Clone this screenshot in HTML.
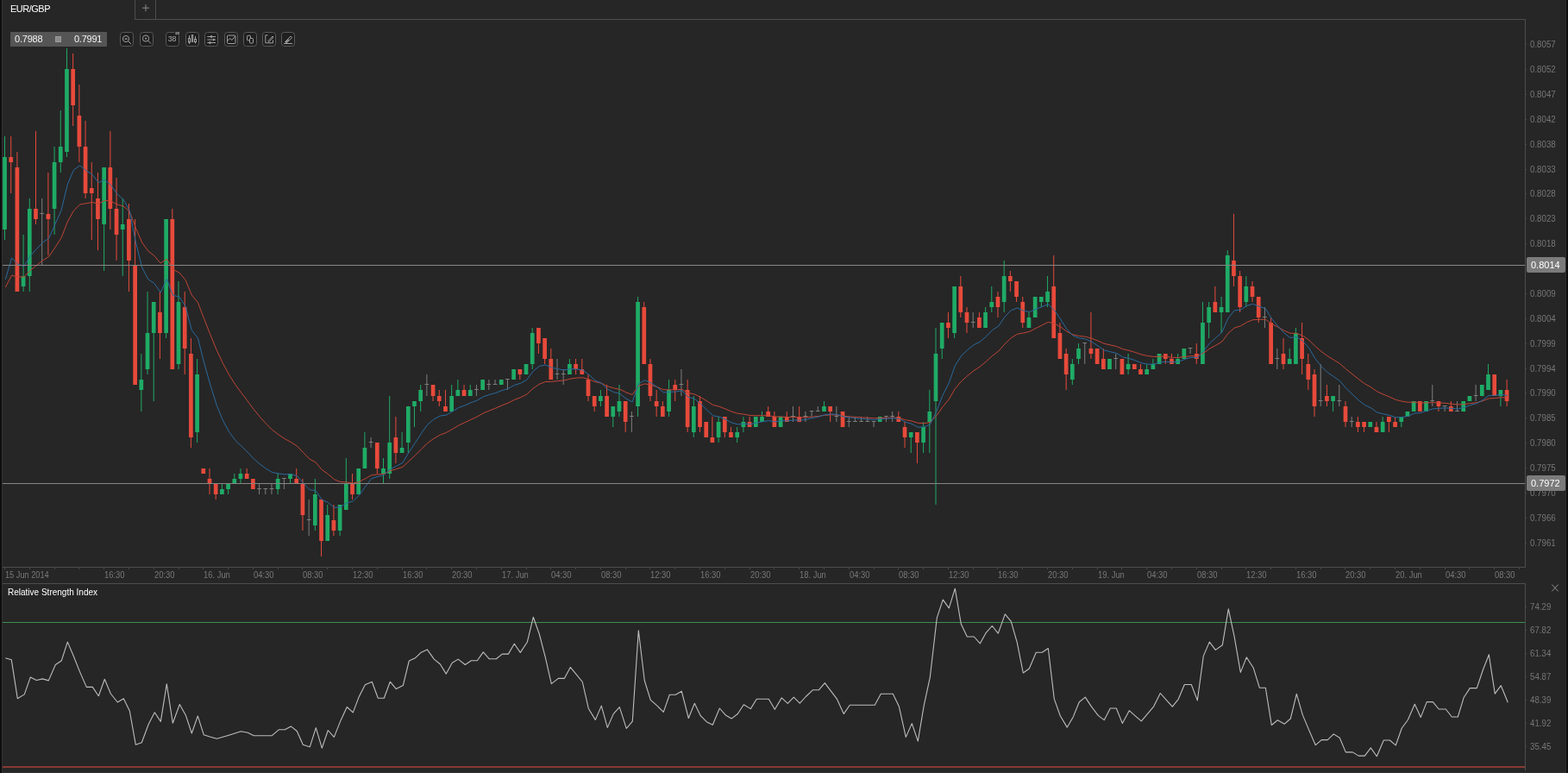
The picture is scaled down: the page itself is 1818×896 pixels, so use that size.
<!DOCTYPE html>
<html><head><meta charset="utf-8"><style>
*{margin:0;padding:0;box-sizing:border-box}
html,body{width:1818px;height:896px;overflow:hidden;background:#262626}
body{position:relative;font-family:"Liberation Sans",Arial,sans-serif}
.abs{position:absolute}
.yl{position:absolute;left:1773.6px;height:14px;line-height:14px;font-size:10px;color:#767676;white-space:nowrap;transform:scaleX(0.97);transform-origin:0 0}
.ytk{position:absolute;left:1769px;width:1px;height:1px;background:#4a4a4a}
.tl{position:absolute;top:660px;height:14px;line-height:14px;font-size:10px;color:#787878;white-space:nowrap;transform:scaleX(0.94);transform-origin:0 0}
.ib{position:absolute;top:37px;width:16px;height:17px;border:1px solid #4d4d4d;border-radius:3px}
.ib svg{position:absolute;left:0;top:0}
.pbox{position:absolute;left:1770px;width:45px;height:18px;background:#7b7b7b;border-radius:2px;color:#fff;font-size:11px;line-height:18px;padding-left:5px}
</style></head><body>
<div class="abs" style="left:0;top:0;width:2px;height:896px;background:#0e0e0e"></div>
<div class="abs" style="left:2px;top:0;width:1px;height:896px;background:#333"></div>
<div class="abs" style="left:1815px;top:0;width:1px;height:896px;background:#303030"></div>
<div class="abs" style="left:1816px;top:0;width:2px;height:896px;background:#0e0e0e"></div>

<div class="abs" style="left:12px;top:4px;font-size:11px;line-height:12px;color:#fff;letter-spacing:-0.5px">EUR/GBP</div>
<div class="abs" style="left:156px;top:0;width:1px;height:23px;background:#4d4d4d"></div>
<div class="abs" style="left:180px;top:0;width:1px;height:23px;background:#4d4d4d"></div>
<div class="abs" style="left:156px;top:22px;width:1613px;height:1px;background:#4d4d4d"></div>
<svg class="abs" style="left:160px;top:0" width="20" height="20"><path d="M9 5.2 V13.2 M5 9.2 H13" stroke="#8a8a8a" stroke-width="1"/></svg>

<svg class="abs" style="left:0;top:0" width="1818" height="896">
<g shape-rendering="crispEdges">
<rect x="1768" y="22" width="1" height="636" fill="#4d4d4d"/>
<rect x="3" y="657" width="1766" height="1" fill="#4d4d4d"/>
<rect x="3" y="676" width="1766" height="1" fill="#4d4d4d"/>
<rect x="1768" y="676" width="1" height="217" fill="#4d4d4d"/>
<rect x="2" y="895" width="1814" height="1" fill="#313131"/>
<rect x="5" y="657" width="1" height="3" fill="#4a4a4a"/><rect x="34" y="657" width="1" height="3" fill="#4a4a4a"/><rect x="63" y="657" width="1" height="3" fill="#4a4a4a"/><rect x="91" y="657" width="1" height="3" fill="#4a4a4a"/><rect x="120" y="657" width="1" height="3" fill="#4a4a4a"/><rect x="149" y="657" width="1" height="3" fill="#4a4a4a"/><rect x="178" y="657" width="1" height="3" fill="#4a4a4a"/><rect x="207" y="657" width="1" height="3" fill="#4a4a4a"/><rect x="235" y="657" width="1" height="3" fill="#4a4a4a"/><rect x="264" y="657" width="1" height="3" fill="#4a4a4a"/><rect x="293" y="657" width="1" height="3" fill="#4a4a4a"/><rect x="322" y="657" width="1" height="3" fill="#4a4a4a"/><rect x="350" y="657" width="1" height="3" fill="#4a4a4a"/><rect x="379" y="657" width="1" height="3" fill="#4a4a4a"/><rect x="408" y="657" width="1" height="3" fill="#4a4a4a"/><rect x="437" y="657" width="1" height="3" fill="#4a4a4a"/><rect x="466" y="657" width="1" height="3" fill="#4a4a4a"/><rect x="494" y="657" width="1" height="3" fill="#4a4a4a"/><rect x="523" y="657" width="1" height="3" fill="#4a4a4a"/><rect x="552" y="657" width="1" height="3" fill="#4a4a4a"/><rect x="581" y="657" width="1" height="3" fill="#4a4a4a"/><rect x="610" y="657" width="1" height="3" fill="#4a4a4a"/><rect x="638" y="657" width="1" height="3" fill="#4a4a4a"/><rect x="667" y="657" width="1" height="3" fill="#4a4a4a"/><rect x="696" y="657" width="1" height="3" fill="#4a4a4a"/><rect x="725" y="657" width="1" height="3" fill="#4a4a4a"/><rect x="753" y="657" width="1" height="3" fill="#4a4a4a"/><rect x="782" y="657" width="1" height="3" fill="#4a4a4a"/><rect x="811" y="657" width="1" height="3" fill="#4a4a4a"/><rect x="840" y="657" width="1" height="3" fill="#4a4a4a"/><rect x="869" y="657" width="1" height="3" fill="#4a4a4a"/><rect x="897" y="657" width="1" height="3" fill="#4a4a4a"/><rect x="926" y="657" width="1" height="3" fill="#4a4a4a"/><rect x="955" y="657" width="1" height="3" fill="#4a4a4a"/><rect x="984" y="657" width="1" height="3" fill="#4a4a4a"/><rect x="1013" y="657" width="1" height="3" fill="#4a4a4a"/><rect x="1041" y="657" width="1" height="3" fill="#4a4a4a"/><rect x="1070" y="657" width="1" height="3" fill="#4a4a4a"/><rect x="1099" y="657" width="1" height="3" fill="#4a4a4a"/><rect x="1128" y="657" width="1" height="3" fill="#4a4a4a"/><rect x="1156" y="657" width="1" height="3" fill="#4a4a4a"/><rect x="1185" y="657" width="1" height="3" fill="#4a4a4a"/><rect x="1214" y="657" width="1" height="3" fill="#4a4a4a"/><rect x="1243" y="657" width="1" height="3" fill="#4a4a4a"/><rect x="1272" y="657" width="1" height="3" fill="#4a4a4a"/><rect x="1300" y="657" width="1" height="3" fill="#4a4a4a"/><rect x="1329" y="657" width="1" height="3" fill="#4a4a4a"/><rect x="1358" y="657" width="1" height="3" fill="#4a4a4a"/><rect x="1387" y="657" width="1" height="3" fill="#4a4a4a"/><rect x="1416" y="657" width="1" height="3" fill="#4a4a4a"/><rect x="1444" y="657" width="1" height="3" fill="#4a4a4a"/><rect x="1473" y="657" width="1" height="3" fill="#4a4a4a"/><rect x="1502" y="657" width="1" height="3" fill="#4a4a4a"/><rect x="1531" y="657" width="1" height="3" fill="#4a4a4a"/><rect x="1559" y="657" width="1" height="3" fill="#4a4a4a"/><rect x="1588" y="657" width="1" height="3" fill="#4a4a4a"/><rect x="1617" y="657" width="1" height="3" fill="#4a4a4a"/><rect x="1646" y="657" width="1" height="3" fill="#4a4a4a"/><rect x="1675" y="657" width="1" height="3" fill="#4a4a4a"/><rect x="1703" y="657" width="1" height="3" fill="#4a4a4a"/><rect x="1732" y="657" width="1" height="3" fill="#4a4a4a"/><rect x="1761" y="657" width="1" height="3" fill="#4a4a4a"/>
</g>
<g>
<rect x="5.00" y="158" width="1" height="120" fill="#1fab66"/>
<rect x="3.15" y="182" width="4.7" height="84" fill="#1fab66"/>
<rect x="12.20" y="158" width="1" height="66" fill="#e74a3b"/>
<rect x="10.35" y="182" width="4.7" height="6" fill="#e74a3b"/>
<rect x="19.39" y="176" width="1" height="162" fill="#e74a3b"/>
<rect x="17.54" y="194" width="4.7" height="144" fill="#e74a3b"/>
<rect x="26.59" y="272" width="1" height="66" fill="#1fab66"/>
<rect x="24.74" y="320" width="4.7" height="12" fill="#1fab66"/>
<rect x="33.79" y="230" width="1" height="108" fill="#1fab66"/>
<rect x="31.94" y="242" width="4.7" height="78" fill="#1fab66"/>
<rect x="40.98" y="152" width="1" height="108" fill="#e74a3b"/>
<rect x="39.13" y="242" width="4.7" height="12" fill="#e74a3b"/>
<rect x="48.18" y="230" width="1" height="78" fill="#7e7e7e"/>
<rect x="46.33" y="247" width="4.7" height="1" fill="#7e7e7e"/>
<rect x="55.38" y="200" width="1" height="96" fill="#e74a3b"/>
<rect x="53.53" y="248" width="4.7" height="6" fill="#e74a3b"/>
<rect x="62.57" y="170" width="1" height="102" fill="#1fab66"/>
<rect x="60.72" y="188" width="4.7" height="54" fill="#1fab66"/>
<rect x="69.77" y="128" width="1" height="72" fill="#1fab66"/>
<rect x="67.92" y="170" width="4.7" height="18" fill="#1fab66"/>
<rect x="76.97" y="56" width="1" height="126" fill="#1fab66"/>
<rect x="75.12" y="80" width="4.7" height="96" fill="#1fab66"/>
<rect x="84.16" y="62" width="1" height="84" fill="#e74a3b"/>
<rect x="82.31" y="80" width="4.7" height="42" fill="#e74a3b"/>
<rect x="91.36" y="98" width="1" height="90" fill="#e74a3b"/>
<rect x="89.51" y="134" width="4.7" height="36" fill="#e74a3b"/>
<rect x="98.56" y="140" width="1" height="90" fill="#e74a3b"/>
<rect x="96.71" y="170" width="4.7" height="54" fill="#e74a3b"/>
<rect x="105.75" y="188" width="1" height="90" fill="#e74a3b"/>
<rect x="103.90" y="218" width="4.7" height="6" fill="#e74a3b"/>
<rect x="112.95" y="200" width="1" height="90" fill="#e74a3b"/>
<rect x="111.10" y="230" width="4.7" height="24" fill="#e74a3b"/>
<rect x="120.15" y="194" width="1" height="120" fill="#1fab66"/>
<rect x="118.30" y="194" width="4.7" height="66" fill="#1fab66"/>
<rect x="127.34" y="152" width="1" height="114" fill="#e74a3b"/>
<rect x="125.49" y="194" width="4.7" height="48" fill="#e74a3b"/>
<rect x="134.54" y="206" width="1" height="96" fill="#e74a3b"/>
<rect x="132.69" y="242" width="4.7" height="30" fill="#e74a3b"/>
<rect x="141.74" y="230" width="1" height="90" fill="#1fab66"/>
<rect x="139.89" y="260" width="4.7" height="6" fill="#1fab66"/>
<rect x="148.93" y="236" width="1" height="102" fill="#e74a3b"/>
<rect x="147.08" y="254" width="4.7" height="48" fill="#e74a3b"/>
<rect x="156.13" y="254" width="1" height="192" fill="#e74a3b"/>
<rect x="154.28" y="308" width="4.7" height="138" fill="#e74a3b"/>
<rect x="163.33" y="410" width="1" height="67" fill="#1fab66"/>
<rect x="161.48" y="440" width="4.7" height="12" fill="#1fab66"/>
<rect x="170.52" y="338" width="1" height="96" fill="#1fab66"/>
<rect x="168.67" y="386" width="4.7" height="42" fill="#1fab66"/>
<rect x="177.72" y="350" width="1" height="115" fill="#1fab66"/>
<rect x="175.87" y="350" width="4.7" height="36" fill="#1fab66"/>
<rect x="184.92" y="338" width="1" height="78" fill="#e74a3b"/>
<rect x="183.07" y="362" width="4.7" height="24" fill="#e74a3b"/>
<rect x="192.11" y="254" width="1" height="138" fill="#1fab66"/>
<rect x="190.26" y="254" width="4.7" height="132" fill="#1fab66"/>
<rect x="199.31" y="242" width="1" height="186" fill="#e74a3b"/>
<rect x="197.46" y="254" width="4.7" height="174" fill="#e74a3b"/>
<rect x="206.51" y="326" width="1" height="102" fill="#1fab66"/>
<rect x="204.66" y="350" width="4.7" height="72" fill="#1fab66"/>
<rect x="213.70" y="338" width="1" height="96" fill="#e74a3b"/>
<rect x="211.85" y="356" width="4.7" height="48" fill="#e74a3b"/>
<rect x="220.90" y="392" width="1" height="127" fill="#e74a3b"/>
<rect x="219.05" y="410" width="4.7" height="97" fill="#e74a3b"/>
<rect x="228.10" y="416" width="1" height="97" fill="#1fab66"/>
<rect x="226.25" y="434" width="4.7" height="67" fill="#1fab66"/>
<rect x="235.29" y="543" width="1" height="6" fill="#e74a3b"/>
<rect x="233.44" y="543" width="4.7" height="6" fill="#e74a3b"/>
<rect x="242.49" y="543" width="1" height="30" fill="#e74a3b"/>
<rect x="240.64" y="555" width="4.7" height="6" fill="#e74a3b"/>
<rect x="249.69" y="561" width="1" height="18" fill="#e74a3b"/>
<rect x="247.84" y="561" width="4.7" height="12" fill="#e74a3b"/>
<rect x="256.88" y="561" width="1" height="12" fill="#1fab66"/>
<rect x="255.03" y="567" width="4.7" height="6" fill="#1fab66"/>
<rect x="264.08" y="561" width="1" height="12" fill="#1fab66"/>
<rect x="262.23" y="561" width="4.7" height="6" fill="#1fab66"/>
<rect x="271.28" y="549" width="1" height="12" fill="#1fab66"/>
<rect x="269.43" y="555" width="4.7" height="6" fill="#1fab66"/>
<rect x="278.47" y="543" width="1" height="18" fill="#1fab66"/>
<rect x="276.62" y="549" width="4.7" height="6" fill="#1fab66"/>
<rect x="285.67" y="543" width="1" height="12" fill="#e74a3b"/>
<rect x="283.82" y="549" width="4.7" height="6" fill="#e74a3b"/>
<rect x="292.87" y="555" width="1" height="12" fill="#e74a3b"/>
<rect x="291.02" y="555" width="4.7" height="12" fill="#e74a3b"/>
<rect x="300.06" y="561" width="1" height="12" fill="#7e7e7e"/>
<rect x="298.21" y="566" width="4.7" height="1" fill="#7e7e7e"/>
<rect x="307.26" y="567" width="1" height="6" fill="#7e7e7e"/>
<rect x="305.41" y="566" width="4.7" height="1" fill="#7e7e7e"/>
<rect x="314.46" y="561" width="1" height="12" fill="#7e7e7e"/>
<rect x="312.61" y="566" width="4.7" height="1" fill="#7e7e7e"/>
<rect x="321.65" y="549" width="1" height="24" fill="#1fab66"/>
<rect x="319.80" y="555" width="4.7" height="12" fill="#1fab66"/>
<rect x="328.85" y="555" width="1" height="12" fill="#7e7e7e"/>
<rect x="327.00" y="554" width="4.7" height="1" fill="#7e7e7e"/>
<rect x="336.05" y="549" width="1" height="12" fill="#1fab66"/>
<rect x="334.20" y="549" width="4.7" height="6" fill="#1fab66"/>
<rect x="343.24" y="543" width="1" height="18" fill="#e74a3b"/>
<rect x="341.39" y="555" width="4.7" height="6" fill="#e74a3b"/>
<rect x="350.44" y="555" width="1" height="60" fill="#e74a3b"/>
<rect x="348.59" y="561" width="4.7" height="36" fill="#e74a3b"/>
<rect x="357.64" y="579" width="1" height="42" fill="#7e7e7e"/>
<rect x="355.79" y="602" width="4.7" height="1" fill="#7e7e7e"/>
<rect x="364.83" y="555" width="1" height="60" fill="#1fab66"/>
<rect x="362.98" y="573" width="4.7" height="36" fill="#1fab66"/>
<rect x="372.03" y="579" width="1" height="66" fill="#e74a3b"/>
<rect x="370.18" y="579" width="4.7" height="48" fill="#e74a3b"/>
<rect x="379.23" y="585" width="1" height="42" fill="#1fab66"/>
<rect x="377.38" y="597" width="4.7" height="30" fill="#1fab66"/>
<rect x="386.43" y="585" width="1" height="36" fill="#e74a3b"/>
<rect x="384.58" y="603" width="4.7" height="12" fill="#e74a3b"/>
<rect x="393.62" y="585" width="1" height="36" fill="#1fab66"/>
<rect x="391.77" y="585" width="4.7" height="30" fill="#1fab66"/>
<rect x="400.82" y="531" width="1" height="60" fill="#1fab66"/>
<rect x="398.97" y="561" width="4.7" height="30" fill="#1fab66"/>
<rect x="408.02" y="549" width="1" height="30" fill="#e74a3b"/>
<rect x="406.17" y="561" width="4.7" height="12" fill="#e74a3b"/>
<rect x="415.21" y="543" width="1" height="30" fill="#1fab66"/>
<rect x="413.36" y="543" width="4.7" height="30" fill="#1fab66"/>
<rect x="422.41" y="501" width="1" height="42" fill="#1fab66"/>
<rect x="420.56" y="519" width="4.7" height="24" fill="#1fab66"/>
<rect x="429.61" y="507" width="1" height="12" fill="#7e7e7e"/>
<rect x="427.76" y="512" width="4.7" height="1" fill="#7e7e7e"/>
<rect x="436.80" y="513" width="1" height="36" fill="#e74a3b"/>
<rect x="434.95" y="513" width="4.7" height="30" fill="#e74a3b"/>
<rect x="444.00" y="531" width="1" height="30" fill="#1fab66"/>
<rect x="442.15" y="543" width="4.7" height="6" fill="#1fab66"/>
<rect x="451.20" y="459" width="1" height="96" fill="#1fab66"/>
<rect x="449.35" y="513" width="4.7" height="36" fill="#1fab66"/>
<rect x="458.39" y="483" width="1" height="54" fill="#e74a3b"/>
<rect x="456.54" y="507" width="4.7" height="18" fill="#e74a3b"/>
<rect x="465.59" y="501" width="1" height="24" fill="#1fab66"/>
<rect x="463.74" y="519" width="4.7" height="6" fill="#1fab66"/>
<rect x="472.79" y="471" width="1" height="54" fill="#1fab66"/>
<rect x="470.94" y="471" width="4.7" height="42" fill="#1fab66"/>
<rect x="479.98" y="465" width="1" height="30" fill="#1fab66"/>
<rect x="478.13" y="465" width="4.7" height="6" fill="#1fab66"/>
<rect x="487.18" y="446" width="1" height="31" fill="#1fab66"/>
<rect x="485.33" y="452" width="4.7" height="13" fill="#1fab66"/>
<rect x="494.38" y="434" width="1" height="25" fill="#7e7e7e"/>
<rect x="492.53" y="445" width="4.7" height="1" fill="#7e7e7e"/>
<rect x="501.57" y="446" width="1" height="19" fill="#e74a3b"/>
<rect x="499.72" y="446" width="4.7" height="13" fill="#e74a3b"/>
<rect x="508.77" y="452" width="1" height="19" fill="#e74a3b"/>
<rect x="506.92" y="459" width="4.7" height="6" fill="#e74a3b"/>
<rect x="515.97" y="452" width="1" height="25" fill="#e74a3b"/>
<rect x="514.12" y="471" width="4.7" height="6" fill="#e74a3b"/>
<rect x="523.16" y="446" width="1" height="31" fill="#1fab66"/>
<rect x="521.31" y="459" width="4.7" height="18" fill="#1fab66"/>
<rect x="530.36" y="440" width="1" height="19" fill="#1fab66"/>
<rect x="528.51" y="452" width="4.7" height="7" fill="#1fab66"/>
<rect x="537.56" y="446" width="1" height="13" fill="#e74a3b"/>
<rect x="535.71" y="452" width="4.7" height="7" fill="#e74a3b"/>
<rect x="544.75" y="446" width="1" height="13" fill="#1fab66"/>
<rect x="542.90" y="452" width="4.7" height="7" fill="#1fab66"/>
<rect x="551.95" y="446" width="1" height="13" fill="#7e7e7e"/>
<rect x="550.10" y="451" width="4.7" height="1" fill="#7e7e7e"/>
<rect x="559.15" y="440" width="1" height="12" fill="#1fab66"/>
<rect x="557.30" y="440" width="4.7" height="12" fill="#1fab66"/>
<rect x="566.34" y="440" width="1" height="12" fill="#7e7e7e"/>
<rect x="564.49" y="445" width="4.7" height="1" fill="#7e7e7e"/>
<rect x="573.54" y="440" width="1" height="6" fill="#7e7e7e"/>
<rect x="571.69" y="445" width="4.7" height="1" fill="#7e7e7e"/>
<rect x="580.74" y="440" width="1" height="6" fill="#1fab66"/>
<rect x="578.89" y="440" width="4.7" height="6" fill="#1fab66"/>
<rect x="587.93" y="440" width="1" height="12" fill="#7e7e7e"/>
<rect x="586.08" y="439" width="4.7" height="1" fill="#7e7e7e"/>
<rect x="595.13" y="428" width="1" height="12" fill="#1fab66"/>
<rect x="593.28" y="428" width="4.7" height="12" fill="#1fab66"/>
<rect x="602.33" y="428" width="1" height="12" fill="#e74a3b"/>
<rect x="600.48" y="428" width="4.7" height="6" fill="#e74a3b"/>
<rect x="609.52" y="422" width="1" height="12" fill="#1fab66"/>
<rect x="607.67" y="422" width="4.7" height="12" fill="#1fab66"/>
<rect x="616.72" y="380" width="1" height="48" fill="#1fab66"/>
<rect x="614.87" y="386" width="4.7" height="36" fill="#1fab66"/>
<rect x="623.92" y="380" width="1" height="30" fill="#e74a3b"/>
<rect x="622.07" y="380" width="4.7" height="18" fill="#e74a3b"/>
<rect x="631.11" y="392" width="1" height="30" fill="#e74a3b"/>
<rect x="629.26" y="392" width="4.7" height="24" fill="#e74a3b"/>
<rect x="638.31" y="404" width="1" height="36" fill="#e74a3b"/>
<rect x="636.46" y="416" width="4.7" height="24" fill="#e74a3b"/>
<rect x="645.51" y="416" width="1" height="24" fill="#7e7e7e"/>
<rect x="643.66" y="433" width="4.7" height="1" fill="#7e7e7e"/>
<rect x="652.70" y="428" width="1" height="18" fill="#7e7e7e"/>
<rect x="650.85" y="433" width="4.7" height="1" fill="#7e7e7e"/>
<rect x="659.90" y="416" width="1" height="18" fill="#1fab66"/>
<rect x="658.05" y="422" width="4.7" height="12" fill="#1fab66"/>
<rect x="667.10" y="416" width="1" height="18" fill="#e74a3b"/>
<rect x="665.25" y="422" width="4.7" height="6" fill="#e74a3b"/>
<rect x="674.29" y="416" width="1" height="18" fill="#e74a3b"/>
<rect x="672.44" y="428" width="4.7" height="6" fill="#e74a3b"/>
<rect x="681.49" y="434" width="1" height="31" fill="#e74a3b"/>
<rect x="679.64" y="440" width="4.7" height="19" fill="#e74a3b"/>
<rect x="688.69" y="459" width="1" height="18" fill="#e74a3b"/>
<rect x="686.84" y="459" width="4.7" height="12" fill="#e74a3b"/>
<rect x="695.88" y="452" width="1" height="19" fill="#1fab66"/>
<rect x="694.03" y="459" width="4.7" height="6" fill="#1fab66"/>
<rect x="703.08" y="446" width="1" height="37" fill="#e74a3b"/>
<rect x="701.23" y="459" width="4.7" height="24" fill="#e74a3b"/>
<rect x="710.28" y="471" width="1" height="24" fill="#1fab66"/>
<rect x="708.43" y="471" width="4.7" height="12" fill="#1fab66"/>
<rect x="717.47" y="446" width="1" height="37" fill="#1fab66"/>
<rect x="715.62" y="465" width="4.7" height="12" fill="#1fab66"/>
<rect x="724.67" y="465" width="1" height="36" fill="#e74a3b"/>
<rect x="722.82" y="465" width="4.7" height="24" fill="#e74a3b"/>
<rect x="731.87" y="477" width="1" height="24" fill="#7e7e7e"/>
<rect x="730.02" y="482" width="4.7" height="1" fill="#7e7e7e"/>
<rect x="739.06" y="344" width="1" height="139" fill="#1fab66"/>
<rect x="737.21" y="350" width="4.7" height="121" fill="#1fab66"/>
<rect x="746.26" y="350" width="1" height="72" fill="#e74a3b"/>
<rect x="744.41" y="356" width="4.7" height="66" fill="#e74a3b"/>
<rect x="753.46" y="416" width="1" height="49" fill="#e74a3b"/>
<rect x="751.61" y="422" width="4.7" height="37" fill="#e74a3b"/>
<rect x="760.65" y="452" width="1" height="31" fill="#e74a3b"/>
<rect x="758.80" y="465" width="4.7" height="6" fill="#e74a3b"/>
<rect x="767.85" y="465" width="1" height="18" fill="#e74a3b"/>
<rect x="766.00" y="471" width="4.7" height="12" fill="#e74a3b"/>
<rect x="775.05" y="440" width="1" height="43" fill="#1fab66"/>
<rect x="773.20" y="452" width="4.7" height="25" fill="#1fab66"/>
<rect x="782.24" y="440" width="1" height="25" fill="#e74a3b"/>
<rect x="780.39" y="446" width="4.7" height="6" fill="#e74a3b"/>
<rect x="789.44" y="428" width="1" height="31" fill="#7e7e7e"/>
<rect x="787.59" y="445" width="4.7" height="1" fill="#7e7e7e"/>
<rect x="796.64" y="440" width="1" height="61" fill="#e74a3b"/>
<rect x="794.79" y="452" width="4.7" height="43" fill="#e74a3b"/>
<rect x="803.83" y="459" width="1" height="48" fill="#1fab66"/>
<rect x="801.98" y="471" width="4.7" height="30" fill="#1fab66"/>
<rect x="811.03" y="459" width="1" height="42" fill="#e74a3b"/>
<rect x="809.18" y="465" width="4.7" height="30" fill="#e74a3b"/>
<rect x="818.23" y="489" width="1" height="18" fill="#e74a3b"/>
<rect x="816.38" y="489" width="4.7" height="18" fill="#e74a3b"/>
<rect x="825.42" y="483" width="1" height="30" fill="#e74a3b"/>
<rect x="823.57" y="507" width="4.7" height="6" fill="#e74a3b"/>
<rect x="832.62" y="483" width="1" height="30" fill="#1fab66"/>
<rect x="830.77" y="489" width="4.7" height="18" fill="#1fab66"/>
<rect x="839.82" y="483" width="1" height="24" fill="#e74a3b"/>
<rect x="837.97" y="483" width="4.7" height="18" fill="#e74a3b"/>
<rect x="847.01" y="495" width="1" height="12" fill="#e74a3b"/>
<rect x="845.16" y="501" width="4.7" height="6" fill="#e74a3b"/>
<rect x="854.21" y="495" width="1" height="18" fill="#1fab66"/>
<rect x="852.36" y="501" width="4.7" height="6" fill="#1fab66"/>
<rect x="861.41" y="483" width="1" height="18" fill="#1fab66"/>
<rect x="859.56" y="489" width="4.7" height="6" fill="#1fab66"/>
<rect x="868.60" y="483" width="1" height="12" fill="#e74a3b"/>
<rect x="866.75" y="489" width="4.7" height="6" fill="#e74a3b"/>
<rect x="875.80" y="483" width="1" height="12" fill="#1fab66"/>
<rect x="873.95" y="483" width="4.7" height="12" fill="#1fab66"/>
<rect x="883.00" y="477" width="1" height="12" fill="#1fab66"/>
<rect x="881.15" y="483" width="4.7" height="6" fill="#1fab66"/>
<rect x="890.19" y="471" width="1" height="12" fill="#e74a3b"/>
<rect x="888.34" y="477" width="4.7" height="6" fill="#e74a3b"/>
<rect x="897.39" y="477" width="1" height="18" fill="#e74a3b"/>
<rect x="895.54" y="483" width="4.7" height="12" fill="#e74a3b"/>
<rect x="904.59" y="483" width="1" height="12" fill="#1fab66"/>
<rect x="902.74" y="483" width="4.7" height="12" fill="#1fab66"/>
<rect x="911.78" y="477" width="1" height="12" fill="#e74a3b"/>
<rect x="909.93" y="483" width="4.7" height="6" fill="#e74a3b"/>
<rect x="918.98" y="471" width="1" height="18" fill="#7e7e7e"/>
<rect x="917.13" y="482" width="4.7" height="1" fill="#7e7e7e"/>
<rect x="926.18" y="471" width="1" height="18" fill="#e74a3b"/>
<rect x="924.33" y="483" width="4.7" height="6" fill="#e74a3b"/>
<rect x="933.37" y="477" width="1" height="12" fill="#7e7e7e"/>
<rect x="931.52" y="482" width="4.7" height="1" fill="#7e7e7e"/>
<rect x="940.57" y="477" width="1" height="6" fill="#7e7e7e"/>
<rect x="938.72" y="476" width="4.7" height="1" fill="#7e7e7e"/>
<rect x="947.77" y="471" width="1" height="6" fill="#7e7e7e"/>
<rect x="945.92" y="476" width="4.7" height="1" fill="#7e7e7e"/>
<rect x="954.96" y="465" width="1" height="12" fill="#1fab66"/>
<rect x="953.11" y="471" width="4.7" height="6" fill="#1fab66"/>
<rect x="962.16" y="471" width="1" height="18" fill="#e74a3b"/>
<rect x="960.31" y="471" width="4.7" height="6" fill="#e74a3b"/>
<rect x="969.36" y="471" width="1" height="18" fill="#7e7e7e"/>
<rect x="967.51" y="482" width="4.7" height="1" fill="#7e7e7e"/>
<rect x="976.55" y="477" width="1" height="18" fill="#e74a3b"/>
<rect x="974.70" y="477" width="4.7" height="18" fill="#e74a3b"/>
<rect x="983.75" y="483" width="1" height="12" fill="#7e7e7e"/>
<rect x="981.90" y="488" width="4.7" height="1" fill="#7e7e7e"/>
<rect x="990.95" y="483" width="1" height="6" fill="#7e7e7e"/>
<rect x="989.10" y="488" width="4.7" height="1" fill="#7e7e7e"/>
<rect x="998.14" y="483" width="1" height="6" fill="#7e7e7e"/>
<rect x="996.29" y="488" width="4.7" height="1" fill="#7e7e7e"/>
<rect x="1005.34" y="483" width="1" height="6" fill="#7e7e7e"/>
<rect x="1003.49" y="488" width="4.7" height="1" fill="#7e7e7e"/>
<rect x="1012.54" y="489" width="1" height="6" fill="#7e7e7e"/>
<rect x="1010.69" y="488" width="4.7" height="1" fill="#7e7e7e"/>
<rect x="1019.73" y="483" width="1" height="6" fill="#1fab66"/>
<rect x="1017.88" y="483" width="4.7" height="6" fill="#1fab66"/>
<rect x="1026.93" y="483" width="1" height="6" fill="#7e7e7e"/>
<rect x="1025.08" y="482" width="4.7" height="1" fill="#7e7e7e"/>
<rect x="1034.13" y="477" width="1" height="12" fill="#7e7e7e"/>
<rect x="1032.28" y="482" width="4.7" height="1" fill="#7e7e7e"/>
<rect x="1041.32" y="477" width="1" height="12" fill="#e74a3b"/>
<rect x="1039.47" y="483" width="4.7" height="6" fill="#e74a3b"/>
<rect x="1048.52" y="489" width="1" height="30" fill="#e74a3b"/>
<rect x="1046.67" y="495" width="4.7" height="12" fill="#e74a3b"/>
<rect x="1055.72" y="501" width="1" height="24" fill="#1fab66"/>
<rect x="1053.87" y="501" width="4.7" height="6" fill="#1fab66"/>
<rect x="1062.91" y="501" width="1" height="36" fill="#e74a3b"/>
<rect x="1061.06" y="501" width="4.7" height="12" fill="#e74a3b"/>
<rect x="1070.11" y="489" width="1" height="36" fill="#1fab66"/>
<rect x="1068.26" y="495" width="4.7" height="18" fill="#1fab66"/>
<rect x="1077.31" y="452" width="1" height="73" fill="#1fab66"/>
<rect x="1075.46" y="477" width="4.7" height="12" fill="#1fab66"/>
<rect x="1084.50" y="380" width="1" height="205" fill="#1fab66"/>
<rect x="1082.65" y="410" width="4.7" height="55" fill="#1fab66"/>
<rect x="1091.70" y="374" width="1" height="42" fill="#1fab66"/>
<rect x="1089.85" y="374" width="4.7" height="30" fill="#1fab66"/>
<rect x="1098.90" y="362" width="1" height="30" fill="#e74a3b"/>
<rect x="1097.05" y="374" width="4.7" height="6" fill="#e74a3b"/>
<rect x="1106.10" y="332" width="1" height="60" fill="#1fab66"/>
<rect x="1104.25" y="332" width="4.7" height="54" fill="#1fab66"/>
<rect x="1113.29" y="320" width="1" height="48" fill="#e74a3b"/>
<rect x="1111.44" y="332" width="4.7" height="30" fill="#e74a3b"/>
<rect x="1120.49" y="356" width="1" height="30" fill="#e74a3b"/>
<rect x="1118.64" y="362" width="4.7" height="12" fill="#e74a3b"/>
<rect x="1127.69" y="362" width="1" height="18" fill="#7e7e7e"/>
<rect x="1125.84" y="373" width="4.7" height="1" fill="#7e7e7e"/>
<rect x="1134.88" y="362" width="1" height="18" fill="#e74a3b"/>
<rect x="1133.03" y="368" width="4.7" height="12" fill="#e74a3b"/>
<rect x="1142.08" y="356" width="1" height="24" fill="#1fab66"/>
<rect x="1140.23" y="362" width="4.7" height="18" fill="#1fab66"/>
<rect x="1149.28" y="332" width="1" height="30" fill="#1fab66"/>
<rect x="1147.43" y="350" width="4.7" height="6" fill="#1fab66"/>
<rect x="1156.47" y="338" width="1" height="30" fill="#e74a3b"/>
<rect x="1154.62" y="344" width="4.7" height="12" fill="#e74a3b"/>
<rect x="1163.67" y="302" width="1" height="60" fill="#1fab66"/>
<rect x="1161.82" y="320" width="4.7" height="30" fill="#1fab66"/>
<rect x="1170.87" y="314" width="1" height="24" fill="#e74a3b"/>
<rect x="1169.02" y="320" width="4.7" height="6" fill="#e74a3b"/>
<rect x="1178.06" y="326" width="1" height="24" fill="#e74a3b"/>
<rect x="1176.21" y="326" width="4.7" height="18" fill="#e74a3b"/>
<rect x="1185.26" y="344" width="1" height="36" fill="#e74a3b"/>
<rect x="1183.41" y="350" width="4.7" height="24" fill="#e74a3b"/>
<rect x="1192.46" y="362" width="1" height="18" fill="#1fab66"/>
<rect x="1190.61" y="368" width="4.7" height="12" fill="#1fab66"/>
<rect x="1199.65" y="344" width="1" height="24" fill="#1fab66"/>
<rect x="1197.80" y="344" width="4.7" height="24" fill="#1fab66"/>
<rect x="1206.85" y="344" width="1" height="12" fill="#1fab66"/>
<rect x="1205.00" y="344" width="4.7" height="6" fill="#1fab66"/>
<rect x="1214.05" y="320" width="1" height="36" fill="#1fab66"/>
<rect x="1212.20" y="338" width="4.7" height="12" fill="#1fab66"/>
<rect x="1221.24" y="296" width="1" height="96" fill="#e74a3b"/>
<rect x="1219.39" y="332" width="4.7" height="60" fill="#e74a3b"/>
<rect x="1228.44" y="374" width="1" height="42" fill="#e74a3b"/>
<rect x="1226.59" y="386" width="4.7" height="30" fill="#e74a3b"/>
<rect x="1235.64" y="404" width="1" height="48" fill="#e74a3b"/>
<rect x="1233.79" y="410" width="4.7" height="24" fill="#e74a3b"/>
<rect x="1242.83" y="416" width="1" height="30" fill="#1fab66"/>
<rect x="1240.98" y="422" width="4.7" height="18" fill="#1fab66"/>
<rect x="1250.03" y="398" width="1" height="24" fill="#1fab66"/>
<rect x="1248.18" y="404" width="4.7" height="12" fill="#1fab66"/>
<rect x="1257.23" y="398" width="1" height="24" fill="#7e7e7e"/>
<rect x="1255.38" y="397" width="4.7" height="1" fill="#7e7e7e"/>
<rect x="1264.42" y="362" width="1" height="54" fill="#e74a3b"/>
<rect x="1262.57" y="404" width="4.7" height="6" fill="#e74a3b"/>
<rect x="1271.62" y="404" width="1" height="18" fill="#e74a3b"/>
<rect x="1269.77" y="404" width="4.7" height="18" fill="#e74a3b"/>
<rect x="1278.82" y="404" width="1" height="24" fill="#e74a3b"/>
<rect x="1276.97" y="416" width="4.7" height="12" fill="#e74a3b"/>
<rect x="1286.01" y="416" width="1" height="12" fill="#1fab66"/>
<rect x="1284.16" y="416" width="4.7" height="12" fill="#1fab66"/>
<rect x="1293.21" y="410" width="1" height="18" fill="#7e7e7e"/>
<rect x="1291.36" y="415" width="4.7" height="1" fill="#7e7e7e"/>
<rect x="1300.41" y="416" width="1" height="18" fill="#e74a3b"/>
<rect x="1298.56" y="416" width="4.7" height="18" fill="#e74a3b"/>
<rect x="1307.60" y="410" width="1" height="24" fill="#1fab66"/>
<rect x="1305.75" y="422" width="4.7" height="6" fill="#1fab66"/>
<rect x="1314.80" y="422" width="1" height="6" fill="#e74a3b"/>
<rect x="1312.95" y="422" width="4.7" height="6" fill="#e74a3b"/>
<rect x="1322.00" y="422" width="1" height="12" fill="#e74a3b"/>
<rect x="1320.15" y="428" width="4.7" height="6" fill="#e74a3b"/>
<rect x="1329.19" y="422" width="1" height="12" fill="#1fab66"/>
<rect x="1327.34" y="428" width="4.7" height="6" fill="#1fab66"/>
<rect x="1336.39" y="416" width="1" height="12" fill="#1fab66"/>
<rect x="1334.54" y="422" width="4.7" height="6" fill="#1fab66"/>
<rect x="1343.59" y="410" width="1" height="12" fill="#1fab66"/>
<rect x="1341.74" y="410" width="4.7" height="12" fill="#1fab66"/>
<rect x="1350.78" y="410" width="1" height="12" fill="#e74a3b"/>
<rect x="1348.93" y="410" width="4.7" height="6" fill="#e74a3b"/>
<rect x="1357.98" y="410" width="1" height="12" fill="#e74a3b"/>
<rect x="1356.13" y="416" width="4.7" height="6" fill="#e74a3b"/>
<rect x="1365.18" y="410" width="1" height="12" fill="#1fab66"/>
<rect x="1363.33" y="416" width="4.7" height="6" fill="#1fab66"/>
<rect x="1372.37" y="404" width="1" height="12" fill="#1fab66"/>
<rect x="1370.52" y="404" width="4.7" height="12" fill="#1fab66"/>
<rect x="1379.57" y="404" width="1" height="6" fill="#7e7e7e"/>
<rect x="1377.72" y="403" width="4.7" height="1" fill="#7e7e7e"/>
<rect x="1386.77" y="398" width="1" height="24" fill="#e74a3b"/>
<rect x="1384.92" y="410" width="4.7" height="6" fill="#e74a3b"/>
<rect x="1393.96" y="350" width="1" height="72" fill="#1fab66"/>
<rect x="1392.11" y="374" width="4.7" height="48" fill="#1fab66"/>
<rect x="1401.16" y="350" width="1" height="42" fill="#1fab66"/>
<rect x="1399.31" y="356" width="4.7" height="18" fill="#1fab66"/>
<rect x="1408.36" y="332" width="1" height="30" fill="#e74a3b"/>
<rect x="1406.51" y="350" width="4.7" height="12" fill="#e74a3b"/>
<rect x="1415.55" y="344" width="1" height="42" fill="#1fab66"/>
<rect x="1413.70" y="356" width="4.7" height="6" fill="#1fab66"/>
<rect x="1422.75" y="290" width="1" height="72" fill="#1fab66"/>
<rect x="1420.90" y="296" width="4.7" height="66" fill="#1fab66"/>
<rect x="1429.95" y="248" width="1" height="84" fill="#e74a3b"/>
<rect x="1428.10" y="302" width="4.7" height="18" fill="#e74a3b"/>
<rect x="1437.14" y="314" width="1" height="48" fill="#e74a3b"/>
<rect x="1435.29" y="320" width="4.7" height="36" fill="#e74a3b"/>
<rect x="1444.34" y="320" width="1" height="36" fill="#1fab66"/>
<rect x="1442.49" y="332" width="4.7" height="18" fill="#1fab66"/>
<rect x="1451.54" y="326" width="1" height="24" fill="#e74a3b"/>
<rect x="1449.69" y="332" width="4.7" height="12" fill="#e74a3b"/>
<rect x="1458.73" y="344" width="1" height="30" fill="#e74a3b"/>
<rect x="1456.88" y="344" width="4.7" height="24" fill="#e74a3b"/>
<rect x="1465.93" y="356" width="1" height="24" fill="#7e7e7e"/>
<rect x="1464.08" y="367" width="4.7" height="1" fill="#7e7e7e"/>
<rect x="1473.13" y="368" width="1" height="54" fill="#e74a3b"/>
<rect x="1471.28" y="374" width="4.7" height="48" fill="#e74a3b"/>
<rect x="1480.32" y="404" width="1" height="24" fill="#7e7e7e"/>
<rect x="1478.47" y="415" width="4.7" height="1" fill="#7e7e7e"/>
<rect x="1487.52" y="392" width="1" height="36" fill="#e74a3b"/>
<rect x="1485.67" y="410" width="4.7" height="12" fill="#e74a3b"/>
<rect x="1494.72" y="404" width="1" height="18" fill="#1fab66"/>
<rect x="1492.87" y="416" width="4.7" height="6" fill="#1fab66"/>
<rect x="1501.91" y="380" width="1" height="42" fill="#1fab66"/>
<rect x="1500.06" y="386" width="4.7" height="36" fill="#1fab66"/>
<rect x="1509.11" y="374" width="1" height="60" fill="#e74a3b"/>
<rect x="1507.26" y="392" width="4.7" height="24" fill="#e74a3b"/>
<rect x="1516.31" y="410" width="1" height="42" fill="#e74a3b"/>
<rect x="1514.46" y="422" width="4.7" height="18" fill="#e74a3b"/>
<rect x="1523.50" y="428" width="1" height="55" fill="#e74a3b"/>
<rect x="1521.65" y="434" width="4.7" height="37" fill="#e74a3b"/>
<rect x="1530.70" y="422" width="1" height="49" fill="#7e7e7e"/>
<rect x="1528.85" y="464" width="4.7" height="1" fill="#7e7e7e"/>
<rect x="1537.90" y="446" width="1" height="25" fill="#e74a3b"/>
<rect x="1536.05" y="459" width="4.7" height="6" fill="#e74a3b"/>
<rect x="1545.09" y="459" width="1" height="18" fill="#1fab66"/>
<rect x="1543.24" y="459" width="4.7" height="6" fill="#1fab66"/>
<rect x="1552.29" y="446" width="1" height="25" fill="#7e7e7e"/>
<rect x="1550.44" y="464" width="4.7" height="1" fill="#7e7e7e"/>
<rect x="1559.49" y="465" width="1" height="30" fill="#e74a3b"/>
<rect x="1557.64" y="471" width="4.7" height="18" fill="#e74a3b"/>
<rect x="1566.68" y="483" width="1" height="12" fill="#7e7e7e"/>
<rect x="1564.83" y="488" width="4.7" height="1" fill="#7e7e7e"/>
<rect x="1573.88" y="483" width="1" height="18" fill="#e74a3b"/>
<rect x="1572.03" y="489" width="4.7" height="6" fill="#e74a3b"/>
<rect x="1581.08" y="489" width="1" height="12" fill="#e74a3b"/>
<rect x="1579.23" y="489" width="4.7" height="6" fill="#e74a3b"/>
<rect x="1588.27" y="489" width="1" height="6" fill="#1fab66"/>
<rect x="1586.42" y="489" width="4.7" height="6" fill="#1fab66"/>
<rect x="1595.47" y="489" width="1" height="12" fill="#e74a3b"/>
<rect x="1593.62" y="495" width="4.7" height="6" fill="#e74a3b"/>
<rect x="1602.67" y="483" width="1" height="18" fill="#1fab66"/>
<rect x="1600.82" y="489" width="4.7" height="12" fill="#1fab66"/>
<rect x="1609.86" y="483" width="1" height="18" fill="#e74a3b"/>
<rect x="1608.01" y="483" width="4.7" height="6" fill="#e74a3b"/>
<rect x="1617.06" y="483" width="1" height="12" fill="#e74a3b"/>
<rect x="1615.21" y="489" width="4.7" height="6" fill="#e74a3b"/>
<rect x="1624.26" y="483" width="1" height="12" fill="#1fab66"/>
<rect x="1622.41" y="483" width="4.7" height="6" fill="#1fab66"/>
<rect x="1631.45" y="477" width="1" height="6" fill="#1fab66"/>
<rect x="1629.60" y="477" width="4.7" height="6" fill="#1fab66"/>
<rect x="1638.65" y="465" width="1" height="12" fill="#1fab66"/>
<rect x="1636.80" y="465" width="4.7" height="12" fill="#1fab66"/>
<rect x="1645.85" y="465" width="1" height="12" fill="#e74a3b"/>
<rect x="1644.00" y="465" width="4.7" height="12" fill="#e74a3b"/>
<rect x="1653.04" y="465" width="1" height="12" fill="#1fab66"/>
<rect x="1651.19" y="465" width="4.7" height="12" fill="#1fab66"/>
<rect x="1660.24" y="446" width="1" height="25" fill="#7e7e7e"/>
<rect x="1658.39" y="464" width="4.7" height="1" fill="#7e7e7e"/>
<rect x="1667.44" y="465" width="1" height="12" fill="#e74a3b"/>
<rect x="1665.59" y="465" width="4.7" height="6" fill="#e74a3b"/>
<rect x="1674.63" y="471" width="1" height="6" fill="#7e7e7e"/>
<rect x="1672.78" y="470" width="4.7" height="1" fill="#7e7e7e"/>
<rect x="1681.83" y="465" width="1" height="12" fill="#e74a3b"/>
<rect x="1679.98" y="471" width="4.7" height="6" fill="#e74a3b"/>
<rect x="1689.03" y="465" width="1" height="12" fill="#7e7e7e"/>
<rect x="1687.18" y="476" width="4.7" height="1" fill="#7e7e7e"/>
<rect x="1696.22" y="465" width="1" height="12" fill="#1fab66"/>
<rect x="1694.37" y="465" width="4.7" height="12" fill="#1fab66"/>
<rect x="1703.42" y="459" width="1" height="6" fill="#1fab66"/>
<rect x="1701.57" y="459" width="4.7" height="6" fill="#1fab66"/>
<rect x="1710.62" y="446" width="1" height="19" fill="#7e7e7e"/>
<rect x="1708.77" y="458" width="4.7" height="1" fill="#7e7e7e"/>
<rect x="1717.81" y="446" width="1" height="13" fill="#1fab66"/>
<rect x="1715.96" y="446" width="4.7" height="13" fill="#1fab66"/>
<rect x="1725.01" y="422" width="1" height="30" fill="#1fab66"/>
<rect x="1723.16" y="434" width="4.7" height="18" fill="#1fab66"/>
<rect x="1732.21" y="434" width="1" height="25" fill="#e74a3b"/>
<rect x="1730.36" y="434" width="4.7" height="25" fill="#e74a3b"/>
<rect x="1739.40" y="452" width="1" height="19" fill="#1fab66"/>
<rect x="1737.55" y="452" width="4.7" height="7" fill="#1fab66"/>
<rect x="1746.60" y="440" width="1" height="31" fill="#e74a3b"/>
<rect x="1744.75" y="452" width="4.7" height="13" fill="#e74a3b"/>
</g>
<polyline points="6.3,333.0 13.5,319.2 20.7,321.0 27.9,320.9 35.1,313.3 42.3,307.7 49.5,301.9 56.7,297.4 63.9,286.9 71.1,275.7 78.3,257.0 85.5,244.1 92.7,237.0 99.9,235.7 107.1,234.5 114.3,236.4 121.4,232.3 128.6,233.2 135.8,236.9 143.0,239.0 150.2,245.0 157.4,264.2 164.6,281.0 171.8,291.0 179.0,296.6 186.2,305.1 193.4,300.2 200.6,312.4 207.8,316.0 215.0,324.4 222.2,341.8 229.4,350.6 236.6,369.4 243.8,387.7 251.0,405.3 258.2,420.7 265.4,434.0 272.6,445.5 279.8,455.3 287.0,464.8 294.2,474.5 301.4,483.3 308.6,491.2 315.8,498.4 323.0,503.8 330.2,508.6 337.3,512.5 344.5,517.1 351.7,524.7 358.9,532.1 366.1,536.0 373.3,544.6 380.5,549.6 387.7,555.8 394.9,558.6 402.1,558.8 409.3,560.1 416.5,558.5 423.7,554.7 430.9,550.7 438.1,549.9 445.3,549.2 452.5,545.7 459.7,543.7 466.9,541.3 474.1,534.6 481.3,527.9 488.5,520.7 495.7,513.6 502.9,508.4 510.1,504.2 517.3,501.5 524.5,497.4 531.7,493.1 538.9,489.8 546.1,486.3 553.2,483.0 560.4,479.0 567.6,475.9 574.8,473.1 582.0,469.9 589.2,467.1 596.4,463.4 603.6,460.7 610.8,457.0 618.0,450.3 625.2,445.3 632.4,442.5 639.6,442.3 646.8,441.6 654.0,440.9 661.2,439.1 668.4,438.1 675.6,437.7 682.8,439.7 690.0,442.6 697.2,444.1 704.4,447.8 711.6,449.9 718.8,451.3 726.0,454.9 733.2,457.5 740.4,447.2 747.6,444.9 754.8,446.2 762.0,448.5 769.2,451.7 776.3,451.8 783.5,451.8 790.7,451.3 797.9,455.4 805.1,456.9 812.3,460.4 819.5,464.8 826.7,469.4 833.9,471.2 841.1,474.0 848.3,477.1 855.5,479.3 862.7,480.2 869.9,481.6 877.1,481.7 884.3,481.7 891.5,481.8 898.7,483.0 905.9,483.0 913.1,483.5 920.3,483.4 927.5,483.9 934.7,483.7 941.9,483.1 949.1,482.4 956.3,481.3 963.5,480.8 970.7,481.0 977.9,482.3 985.1,482.9 992.2,483.4 999.4,483.9 1006.6,484.3 1013.8,484.7 1021.0,484.5 1028.2,484.3 1035.4,484.1 1042.6,484.6 1049.8,486.7 1057.0,488.0 1064.2,490.3 1071.4,490.7 1078.6,489.4 1085.8,481.8 1093.0,471.6 1100.2,462.9 1107.4,450.4 1114.6,442.0 1121.8,435.5 1129.0,429.7 1136.2,425.0 1143.4,419.0 1150.6,412.4 1157.8,407.0 1165.0,398.7 1172.2,391.8 1179.4,387.3 1186.6,386.0 1193.8,384.3 1201.0,380.5 1208.1,377.0 1215.3,373.3 1222.5,375.1 1229.7,379.0 1236.9,384.3 1244.1,387.9 1251.3,389.4 1258.5,390.3 1265.7,392.2 1272.9,395.0 1280.1,398.2 1287.3,399.9 1294.5,401.5 1301.7,404.6 1308.9,406.3 1316.1,408.4 1323.3,410.9 1330.5,412.5 1337.7,413.5 1344.9,413.1 1352.1,413.4 1359.3,414.3 1366.5,414.5 1373.7,413.5 1380.9,412.6 1388.1,413.0 1395.3,409.3 1402.5,404.2 1409.7,400.2 1416.9,396.0 1424.0,386.4 1431.2,380.1 1438.4,377.8 1445.6,373.5 1452.8,370.7 1460.0,370.4 1467.2,370.2 1474.4,375.2 1481.6,379.1 1488.8,383.2 1496.0,386.3 1503.2,386.3 1510.4,389.2 1517.6,394.0 1524.8,401.3 1532.0,407.3 1539.2,412.8 1546.4,417.1 1553.6,421.6 1560.8,428.0 1568.0,433.7 1575.2,439.5 1582.4,444.8 1589.6,448.9 1596.8,453.9 1604.0,457.2 1611.2,460.1 1618.4,463.4 1625.6,465.2 1632.8,466.3 1640.0,466.1 1647.1,467.1 1654.3,466.8 1661.5,466.6 1668.7,467.0 1675.9,467.3 1683.1,468.2 1690.3,469.0 1697.5,468.5 1704.7,467.6 1711.9,466.7 1719.1,464.8 1726.3,461.9 1733.5,461.5 1740.7,460.7 1747.9,461.0" fill="none" stroke="#c04536" stroke-width="1" stroke-linejoin="round"/>
<polyline points="6.3,323.9 13.5,299.1 20.7,306.1 27.9,308.7 35.1,296.5 42.3,288.7 49.5,281.2 56.7,276.2 63.9,260.1 71.1,243.6 78.3,213.7 85.5,196.9 92.7,191.9 99.9,197.7 107.1,202.4 114.3,211.7 121.4,208.4 128.6,214.5 135.8,224.9 143.0,231.2 150.2,244.1 157.4,280.8 164.6,309.8 171.8,323.7 179.0,328.5 186.2,339.0 193.4,323.5 200.6,342.5 207.8,343.9 215.0,354.9 222.2,382.5 229.4,391.9 236.6,420.4 243.8,445.9 251.0,469.0 258.2,486.8 265.4,500.2 272.6,510.1 279.8,517.1 287.0,524.0 294.2,531.7 301.4,538.1 308.6,543.3 315.8,547.6 323.0,548.9 330.2,549.9 337.3,549.7 344.5,551.7 351.7,559.9 358.9,567.7 366.1,568.7 373.3,579.3 380.5,582.5 387.7,588.4 394.9,587.7 402.1,582.8 409.3,581.0 416.5,574.0 423.7,563.9 430.9,554.6 438.1,552.4 445.3,550.7 452.5,543.7 459.7,540.3 466.9,536.3 474.1,524.3 481.3,513.4 488.5,502.3 495.7,492.2 502.9,486.0 510.1,482.1 517.3,481.1 524.5,477.0 531.7,472.5 538.9,469.9 546.1,466.7 553.2,464.1 560.4,459.8 567.6,457.4 574.8,455.4 582.0,452.6 589.2,450.4 596.4,446.4 603.6,444.2 610.8,440.2 618.0,430.4 625.2,424.5 632.4,423.0 639.6,426.2 646.8,427.7 654.0,428.9 661.2,427.7 668.4,427.8 675.6,429.0 682.8,434.3 690.0,440.9 697.2,444.1 704.4,451.1 711.6,454.6 718.8,456.4 726.0,462.2 733.2,465.9 740.4,444.8 747.6,440.7 754.8,443.9 762.0,448.8 769.2,454.9 776.3,454.4 783.5,454.1 790.7,452.7 797.9,460.3 805.1,462.1 812.3,468.0 819.5,475.0 826.7,481.8 833.9,483.1 841.1,486.2 848.3,489.9 855.5,491.9 862.7,491.2 869.9,491.8 877.1,490.1 884.3,488.7 891.5,487.6 898.7,488.9 905.9,487.7 913.1,487.8 920.3,486.9 927.5,487.2 934.7,486.3 941.9,484.5 949.1,483.1 956.3,480.8 963.5,480.0 970.7,480.4 977.9,483.0 985.1,484.0 992.2,484.8 999.4,485.5 1006.6,486.0 1013.8,486.5 1021.0,485.8 1028.2,485.2 1035.4,484.7 1042.6,485.4 1049.8,489.2 1057.0,491.3 1064.2,495.2 1071.4,495.0 1078.6,491.7 1085.8,476.9 1093.0,458.2 1100.2,444.0 1107.4,423.6 1114.6,412.4 1121.8,405.5 1129.0,399.8 1136.2,396.2 1143.4,390.0 1150.6,382.7 1157.8,377.9 1165.0,367.3 1172.2,359.8 1179.4,356.9 1186.6,360.1 1193.8,361.5 1201.0,358.3 1208.1,355.7 1215.3,352.5 1222.5,359.7 1229.7,370.0 1236.9,381.7 1244.1,389.1 1251.3,391.8 1258.5,393.0 1265.7,396.1 1272.9,400.9 1280.1,405.9 1287.3,407.8 1294.5,409.3 1301.7,413.9 1308.9,415.4 1316.1,417.7 1323.3,420.7 1330.5,422.1 1337.7,422.1 1344.9,420.0 1352.1,419.3 1359.3,419.8 1366.5,419.2 1373.7,416.5 1380.9,414.2 1388.1,414.6 1395.3,407.2 1402.5,397.9 1409.7,391.4 1416.9,385.0 1424.0,368.8 1431.2,359.9 1438.4,359.2 1445.6,354.3 1452.8,352.4 1460.0,355.3 1467.2,357.6 1474.4,369.3 1481.6,377.9 1488.8,386.0 1496.0,391.5 1503.2,390.5 1510.4,395.2 1517.6,403.4 1524.8,415.6 1532.0,424.5 1539.2,431.7 1546.4,436.6 1553.6,441.6 1560.8,450.2 1568.0,457.1 1575.2,463.9 1582.4,469.5 1589.6,472.9 1596.8,478.0 1604.0,479.9 1611.2,481.4 1618.4,483.8 1625.6,483.6 1632.8,482.3 1640.0,479.0 1647.1,478.6 1654.3,476.0 1661.5,473.9 1668.7,473.3 1675.9,472.8 1683.1,473.4 1690.3,474.0 1697.5,472.2 1704.7,469.7 1711.9,467.7 1719.1,463.8 1726.3,458.4 1733.5,458.4 1740.7,457.3 1747.9,458.6" fill="none" stroke="#2a6a9e" stroke-width="1" stroke-linejoin="round"/>
<g shape-rendering="crispEdges">
<rect x="3" y="307" width="1765" height="1" fill="#868686"/>
<rect x="3" y="560" width="1765" height="1" fill="#868686"/>
<rect x="3" y="721" width="1765" height="1" fill="#3d8c50"/>
<rect x="3" y="888" width="1765" height="2" fill="#873a34"/>
</g>
<polyline points="6.3,762.7 13.3,764.8 20.3,809.7 28.3,804.9 35.3,784.9 42.3,788.5 49.3,786.9 56.3,788.9 64.3,770.5 71.3,765.8 78.3,744.1 85.3,760.5 92.3,778.1 100.3,796.4 107.3,796.4 114.3,806.7 121.3,787.2 128.3,804.0 136.3,814.0 143.3,809.7 150.3,824.0 157.3,863.2 164.3,860.8 172.3,839.2 179.3,825.8 186.3,836.4 193.3,792.9 200.3,838.2 208.3,816.5 215.3,828.9 222.3,850.0 229.3,829.9 236.3,851.8 243.3,854.0 251.3,856.3 258.3,854.3 265.3,852.2 272.3,850.0 279.3,847.7 287.3,849.3 294.3,852.7 301.3,852.7 308.3,852.7 315.3,852.7 323.3,845.8 330.3,845.8 337.3,841.9 344.3,847.5 351.3,863.2 359.3,865.7 366.3,843.6 373.3,867.1 380.3,846.5 387.3,854.4 395.3,834.4 402.3,819.5 409.3,825.9 416.3,807.4 423.3,793.7 431.3,790.3 438.3,809.3 445.3,809.3 452.3,790.2 459.3,798.6 467.3,794.6 474.3,766.0 481.3,762.8 488.3,756.2 495.3,752.9 503.3,764.1 510.3,769.8 517.3,781.1 524.3,768.3 531.3,764.1 539.3,770.5 546.3,765.8 553.3,765.8 560.3,755.9 567.3,763.8 575.3,763.8 582.3,758.1 589.3,758.1 596.3,746.2 603.3,756.4 611.3,744.3 618.3,715.3 625.3,735.0 632.3,761.9 639.3,792.6 647.3,786.4 654.3,786.4 661.3,773.4 668.3,781.9 675.3,790.5 682.3,821.2 690.3,834.4 697.3,818.1 704.3,843.4 711.3,827.4 718.3,819.6 726.3,844.3 733.3,836.1 740.3,730.9 747.3,789.0 754.3,811.4 762.3,818.4 769.3,825.4 776.3,805.3 783.3,805.3 790.3,801.2 798.3,832.5 805.3,815.2 812.3,829.7 819.3,836.7 826.3,840.3 834.3,821.0 841.3,828.9 848.3,832.9 855.3,827.5 862.3,816.8 870.3,821.6 877.3,810.3 884.3,810.3 891.3,810.3 898.3,822.3 906.3,808.9 913.3,815.3 920.3,808.2 927.3,815.1 934.3,807.5 942.3,799.8 949.3,799.8 956.3,791.6 963.3,800.9 970.3,810.1 978.3,827.4 985.3,817.3 992.3,817.3 999.3,817.3 1006.3,817.3 1014.3,817.3 1021.3,804.2 1028.3,804.2 1035.3,804.2 1042.3,818.7 1050.3,854.4 1057.3,838.6 1064.3,859.1 1071.3,817.4 1078.3,785.1 1086.3,716.2 1093.3,695.1 1100.3,704.9 1107.3,682.2 1114.3,723.3 1121.3,738.0 1129.3,738.0 1136.3,745.9 1143.3,733.3 1150.3,725.5 1157.3,734.1 1165.3,711.9 1172.3,720.4 1179.3,744.9 1186.3,780.0 1193.3,775.0 1201.3,756.3 1208.3,756.3 1215.3,751.5 1222.3,810.1 1229.3,829.7 1237.3,843.1 1244.3,830.9 1251.3,813.7 1258.3,808.1 1265.3,818.9 1273.3,829.4 1280.3,834.6 1287.3,821.0 1294.3,821.0 1301.3,838.4 1309.3,823.7 1316.3,829.8 1323.3,835.9 1330.3,827.7 1337.3,819.4 1345.3,803.5 1352.3,811.3 1359.3,819.1 1366.3,810.3 1373.3,793.5 1381.3,793.5 1388.3,811.9 1395.3,760.4 1402.3,744.1 1409.3,753.4 1417.3,747.8 1424.3,705.8 1431.3,738.8 1438.3,779.4 1445.3,761.9 1453.3,774.3 1460.3,797.2 1467.3,797.2 1474.3,840.5 1481.3,834.8 1489.3,839.2 1496.3,833.0 1503.3,804.3 1510.3,828.6 1517.3,845.4 1525.3,863.7 1532.3,857.6 1539.3,857.6 1546.3,850.9 1553.3,855.3 1560.3,871.9 1568.3,871.9 1575.3,876.1 1582.3,876.1 1589.3,866.9 1596.3,876.7 1604.3,858.0 1611.3,858.0 1618.3,863.8 1625.3,844.0 1632.3,834.5 1640.3,816.3 1647.3,831.4 1654.3,813.6 1661.3,813.6 1668.3,822.0 1676.3,822.0 1683.3,831.0 1690.3,831.0 1697.3,808.2 1704.3,797.6 1712.3,797.6 1719.3,776.8 1726.3,758.8 1733.3,804.2 1740.3,794.7 1748.3,814.3" fill="none" stroke="#bdbdbd" stroke-width="1.1" stroke-linejoin="round"/>
</svg>

<div class="abs" style="left:12px;top:37px;width:112px;height:17px;background:#555"></div>
<div class="abs" style="left:17px;top:38px;font-size:11px;line-height:15px;color:#f4f4f4;letter-spacing:-0.2px">0.7988</div>
<div class="abs" style="left:64px;top:41.5px;width:7px;height:7px;background:#8c8c8c;border:1px solid #9a9a9a"></div>
<div class="abs" style="left:86px;top:38px;font-size:11px;line-height:15px;color:#f4f4f4;letter-spacing:-0.25px">0.7991</div>

<svg class="abs" style="left:0;top:0" width="360" height="60">
<g fill="#1f1f1f" stroke="#585858" stroke-width="1">
<rect x="139.5" y="37.5" width="15" height="16" rx="3"/>
<rect x="162.5" y="37.5" width="15" height="16" rx="3"/>
<rect x="192.5" y="37.5" width="15" height="16" rx="3"/>
<rect x="215.5" y="37.5" width="15" height="16" rx="3"/>
<rect x="237.5" y="37.5" width="15" height="16" rx="3"/>
<rect x="260.5" y="37.5" width="15" height="16" rx="3"/>
<rect x="282.5" y="37.5" width="15" height="16" rx="3"/>
<rect x="304.5" y="37.5" width="15" height="16" rx="3"/>
<rect x="326.5" y="37.5" width="15" height="16" rx="3"/>
</g>
<rect x="202" y="36" width="7" height="5" fill="#262626"/>
<g fill="none" stroke="#a0a0a0" stroke-width="1">
<circle cx="146" cy="45" r="3.6"/><path d="M148.6 47.6 L152 51"/>
<circle cx="169" cy="44.5" r="3.6"/><path d="M171.6 47.1 L175 50.5"/>
</g>
<rect x="144.6" y="44.3" width="3" height="1.6" fill="#8a8a8a"/>
<rect x="168.2" y="43.7" width="1.8" height="1.8" fill="#9a9a9a"/>
<rect x="203.5" y="37" width="4.5" height="3" fill="#8a8a8a"/>
<path d="M203.5 38.5 H208 M205.7 37 V40" stroke="#444" stroke-width="0.5"/>
<text x="194.8" y="47.9" font-family="Liberation Sans,Arial,sans-serif" font-size="9" fill="#aaa" letter-spacing="-0.3">38</text>
<g fill="none" stroke="#a0a0a0" stroke-width="1">
<path d="M219.5 41 V51"/><rect x="218.5" y="44.5" width="2" height="4.5" fill="#262626"/>
<path d="M226.5 42 V50.5"/><rect x="225.5" y="45.5" width="2" height="3" fill="#262626"/>
</g>
<rect x="221.8" y="40" width="2.4" height="9" fill="#8c8c8c"/>
<g stroke="#a0a0a0" stroke-width="1" fill="none">
<path d="M240.3 42.5 H250 M240.3 46 H250 M240.3 49.5 H250"/>
</g>
<rect x="244" y="41.2" width="2" height="2.6" fill="#a0a0a0"/>
<path d="M247 44.3 L249.3 46 L247 47.7Z" fill="#a0a0a0"/>
<rect x="242.4" y="48.2" width="2" height="2.6" fill="#a0a0a0"/>
<g fill="none" stroke="#a0a0a0" stroke-width="1">
<rect x="263.5" y="41" width="9.5" height="9.5" rx="1"/>
<path d="M263.8 47.5 L266.5 44.5 L269 46.5 L272.5 42"/>
<rect x="286.5" y="41.3" width="4" height="5.5" rx="0.8"/>
<rect x="289.5" y="44.5" width="4" height="5.5" rx="0.8" fill="#1f1f1f"/>
<path d="M316.5 49.8 H307.8 V40.8 H310.5"/>
<path d="M316.5 46.5 V49.8"/>
<path d="M310.8 47.8 L316 42 L317 43 L311.8 48.8 Z"/>
<path d="M329 50.5 H339"/>
<path d="M330.5 48.5 L337 42 L338.6 43.6 L332.1 50.1 Z"/>
</g>
<path d="M330.5 48.5 L334 45 L335.6 46.6 L332.1 50.1 Z" fill="#8c8c8c"/>
</svg>

<div class="yl" style="top:45.1px">0.8057</div><div class="ytk" style="top:51px"></div>
<div class="yl" style="top:74.0px">0.8052</div><div class="ytk" style="top:80px"></div>
<div class="yl" style="top:102.9px">0.8047</div><div class="ytk" style="top:109px"></div>
<div class="yl" style="top:131.7px">0.8042</div><div class="ytk" style="top:138px"></div>
<div class="yl" style="top:160.6px">0.8038</div><div class="ytk" style="top:167px"></div>
<div class="yl" style="top:189.5px">0.8033</div><div class="ytk" style="top:196px"></div>
<div class="yl" style="top:218.4px">0.8028</div><div class="ytk" style="top:224px"></div>
<div class="yl" style="top:247.3px">0.8023</div><div class="ytk" style="top:253px"></div>
<div class="yl" style="top:276.1px">0.8018</div><div class="ytk" style="top:282px"></div>
<div class="yl" style="top:333.9px">0.8009</div><div class="ytk" style="top:340px"></div>
<div class="yl" style="top:362.8px">0.8004</div><div class="ytk" style="top:369px"></div>
<div class="yl" style="top:391.7px">0.7999</div><div class="ytk" style="top:398px"></div>
<div class="yl" style="top:420.5px">0.7994</div><div class="ytk" style="top:427px"></div>
<div class="yl" style="top:449.4px">0.7990</div><div class="ytk" style="top:455px"></div>
<div class="yl" style="top:478.3px">0.7985</div><div class="ytk" style="top:484px"></div>
<div class="yl" style="top:507.2px">0.7980</div><div class="ytk" style="top:513px"></div>
<div class="yl" style="top:536.1px">0.7975</div><div class="ytk" style="top:542px"></div>
<div class="yl" style="top:564.9px">0.7970</div><div class="ytk" style="top:571px"></div>
<div class="yl" style="top:593.8px">0.7966</div><div class="ytk" style="top:600px"></div>
<div class="yl" style="top:622.7px">0.7961</div><div class="ytk" style="top:629px"></div>

<div class="pbox" style="top:298px">0.8014</div>
<div class="pbox" style="top:551px">0.7972</div>
<div class="tl" style="left:5.5px;transform:scaleX(0.92)">15 Jun 2014</div>
<div class="tl" style="left:121.0px">16:30</div>
<div class="tl" style="left:179.0px">20:30</div>
<div class="tl" style="left:236.0px">16. Jun</div>
<div class="tl" style="left:294.0px">04:30</div>
<div class="tl" style="left:351.0px">08:30</div>
<div class="tl" style="left:409.0px">12:30</div>
<div class="tl" style="left:467.0px">16:30</div>
<div class="tl" style="left:524.0px">20:30</div>
<div class="tl" style="left:582.0px">17. Jun</div>
<div class="tl" style="left:639.0px">04:30</div>
<div class="tl" style="left:697.0px">08:30</div>
<div class="tl" style="left:754.0px">12:30</div>
<div class="tl" style="left:812.0px">16:30</div>
<div class="tl" style="left:870.0px">20:30</div>
<div class="tl" style="left:927.0px">18. Jun</div>
<div class="tl" style="left:985.0px">04:30</div>
<div class="tl" style="left:1042.0px">08:30</div>
<div class="tl" style="left:1100.0px">12:30</div>
<div class="tl" style="left:1157.0px">16:30</div>
<div class="tl" style="left:1215.0px">20:30</div>
<div class="tl" style="left:1273.0px">19. Jun</div>
<div class="tl" style="left:1330.0px">04:30</div>
<div class="tl" style="left:1388.0px">08:30</div>
<div class="tl" style="left:1445.0px">12:30</div>
<div class="tl" style="left:1503.0px">16:30</div>
<div class="tl" style="left:1560.0px">20:30</div>
<div class="tl" style="left:1618.0px">20. Jun</div>
<div class="tl" style="left:1676.0px">04:30</div>
<div class="tl" style="left:1733.0px">08:30</div>

<div class="abs" style="left:9px;top:679px;font-size:11px;line-height:14px;color:#fff;transform:scaleX(0.91);transform-origin:0 0;white-space:nowrap">Relative Strength Index</div>
<svg class="abs" style="left:1796px;top:674px" width="16" height="16"><path d="M3.4 3.6 L10.6 11.4 M10.6 3.6 L3.4 11.4" stroke="#8f8f8f" stroke-width="1"/></svg>
<div class="yl" style="top:697.2px">74.29</div><div class="ytk" style="top:703px"></div>
<div class="yl" style="top:724.2px">67.82</div><div class="ytk" style="top:730px"></div>
<div class="yl" style="top:751.2px">61.34</div><div class="ytk" style="top:757px"></div>
<div class="yl" style="top:778.2px">54.87</div><div class="ytk" style="top:784px"></div>
<div class="yl" style="top:805.2px">48.39</div><div class="ytk" style="top:811px"></div>
<div class="yl" style="top:832.2px">41.92</div><div class="ytk" style="top:838px"></div>
<div class="yl" style="top:859.2px">35.45</div><div class="ytk" style="top:865px"></div>

</body></html>
